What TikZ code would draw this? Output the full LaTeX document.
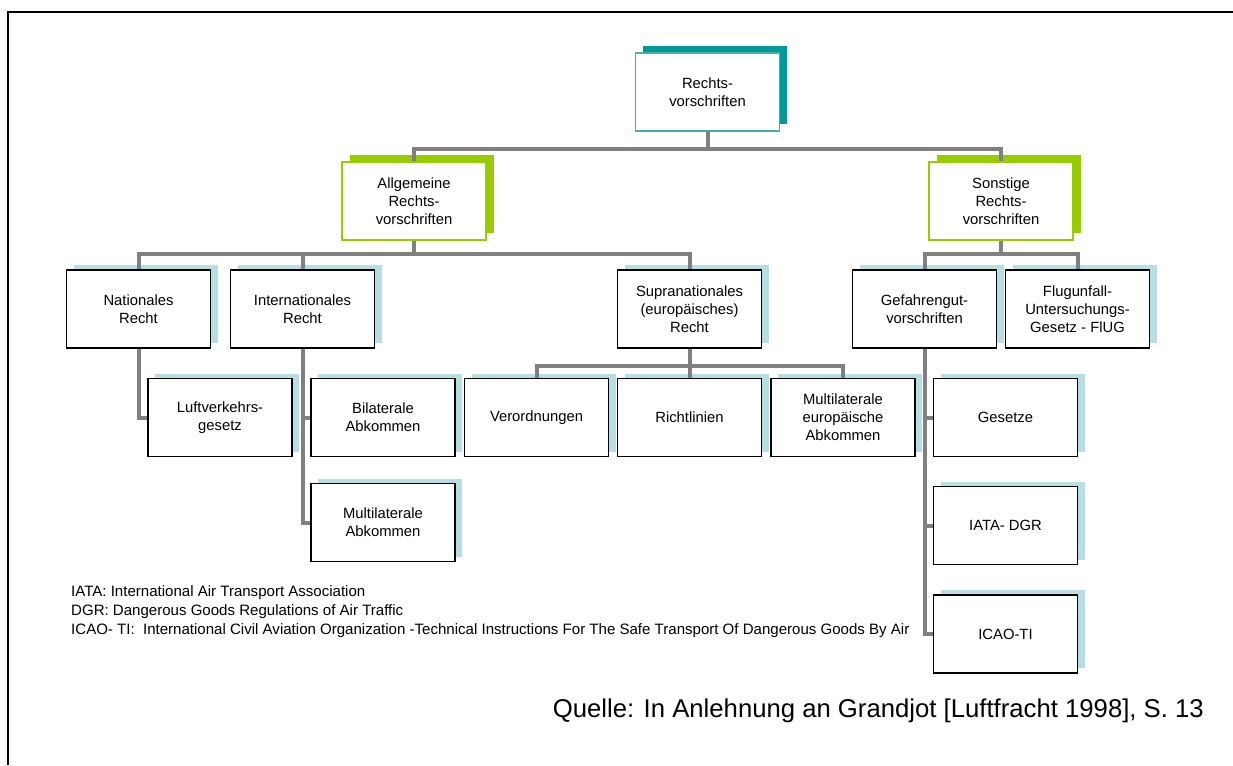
\documentclass[tikz,border=0pt]{standalone}
\usepackage{fontspec}
\setmainfont{Liberation Sans}
\usetikzlibrary{shadows,calc}
\definecolor{conngray}{HTML}{808080}
\definecolor{tealsh}{HTML}{009A9A}
\definecolor{tealbd}{HTML}{40B0B0}
\definecolor{greensh}{HTML}{99CC00}
\definecolor{bluesh}{HTML}{B7DEE2}
\begin{document}
\begin{tikzpicture}[x=1pt,y=-1pt,
  box/.style={draw, rectangle, fill=white, minimum width=144pt, minimum height=78pt, inner sep=2pt, align=center, font=\fontsize{14.8}{18}\selectfont},
  topbox/.style={box, draw=tealbd, line width=1.2pt, general shadow={draw=none, fill=tealsh, shadow xshift=7pt, shadow yshift=7pt}},
  greenbox/.style={box, draw=greensh, line width=1.8pt, general shadow={draw=none, fill=greensh, shadow xshift=8pt, shadow yshift=7pt}},
  bluebox/.style={box, draw=black, line width=1.4pt, general shadow={draw=none, fill=bluesh, shadow xshift=7pt, shadow yshift=5pt}},
  conn/.style={draw=conngray, line width=4pt},
  legend/.style={anchor=base west, inner sep=0pt, font=\fontsize{15.05}{19}\selectfont}
]
\useasboundingbox (0,0) rectangle (1233,765);
\draw[line width=2pt] (8,765) -- (8,12) -- (1233,12);

% level 0
\node[topbox] (rv) at (707.5,92) {Rechts-\\vorschriften};
% level 1
\node[greenbox] (allg) at (414,201) {Allgemeine\\Rechts-\\vorschriften};
\node[greenbox] (sonst) at (1001,201) {Sonstige\\Rechts-\\vorschriften};
% level 2
\node[bluebox] (nat) at (138.5,309) {Nationales\\Recht};
\node[bluebox] (intl) at (302.5,309) {Internationales\\Recht};
\node[bluebox] (supra) at (689.5,309) {Supranationales\\(europäisches)\\Recht};
\node[bluebox] (gef) at (924.5,309) {Gefahrengut-\\vorschriften};
\node[bluebox] (flug) at (1077.5,309) {Flugunfall-\\Untersuchungs-\\Gesetz - FlUG};
% level 3
\node[bluebox] (luft) at (220,417.5) {Luftverkehrs-\\gesetz};
\node[bluebox] (bil) at (383,417.5) {Bilaterale\\Abkommen};
\node[bluebox] (mul) at (383,522.5) {Multilaterale\\Abkommen};
\node[bluebox] (ver) at (536.5,417.5) {Verordnungen};
\node[bluebox] (richt) at (689.5,417.5) {Richtlinien};
\node[bluebox] (muleu) at (843,417.5) {Multilaterale\\europäische\\Abkommen};
\node[bluebox] (ges) at (1005.5,417.5) {Gesetze};
\node[bluebox] (iata) at (1005.5,525.5) {IATA- DGR};
\node[bluebox] (icao) at (1005.5,634) {ICAO-TI};

% connectors
\coordinate (j1) at ($(rv.south)+(0,17)$);
\draw[conn] (allg.north) |- (j1) -| (sonst.north);
\draw[conn] (rv.south) -- (j1);

\coordinate (j2) at ($(allg.south)+(0,13)$);
\draw[conn] (nat.north) |- (j2) -| (supra.north);
\draw[conn] (allg.south) -- (j2);
\draw[conn] (intl.north) -- (intl.north |- j2);

\coordinate (j3) at ($(sonst.south)+(0,13)$);
\draw[conn] (gef.north) |- (j3) -| (flug.north);
\draw[conn] (sonst.south) -- (j3);

\draw[conn] (nat.south) |- (luft.west);
\draw[conn] (intl.south) |- (mul.west);
\draw[conn] (intl.south |- bil.west) -- (bil.west);

\coordinate (j4) at ($(supra.south)+(0,17)$);
\draw[conn] (ver.north) |- (j4) -| (muleu.north);
\draw[conn] (supra.south) -- (richt.north);

\draw[conn] (gef.south) |- (icao.west);
\draw[conn] (gef.south |- ges.west) -- (ges.west);
\draw[conn] (gef.south |- iata.west) -- (iata.west);

% legend
\node[legend] (l1) at (71,596) {IATA: International Air Transport Association};
\node[legend] (l2) at (71,615) {DGR: Dangerous Goods Regulations of Air Traffic};
\node[legend] (l3) at (71,634) {ICAO- TI:\ \ International Civil Aviation Organization -Technical Instructions For The Safe Transport Of Dangerous Goods By Air};

\node[anchor=base east, inner sep=0pt, font=\fontsize{25.7}{30}\selectfont] (q) at (1204,717) {Quelle: In Anlehnung an Grandjot [Luftfracht 1998], S. 13};
\end{tikzpicture}
\end{document}
